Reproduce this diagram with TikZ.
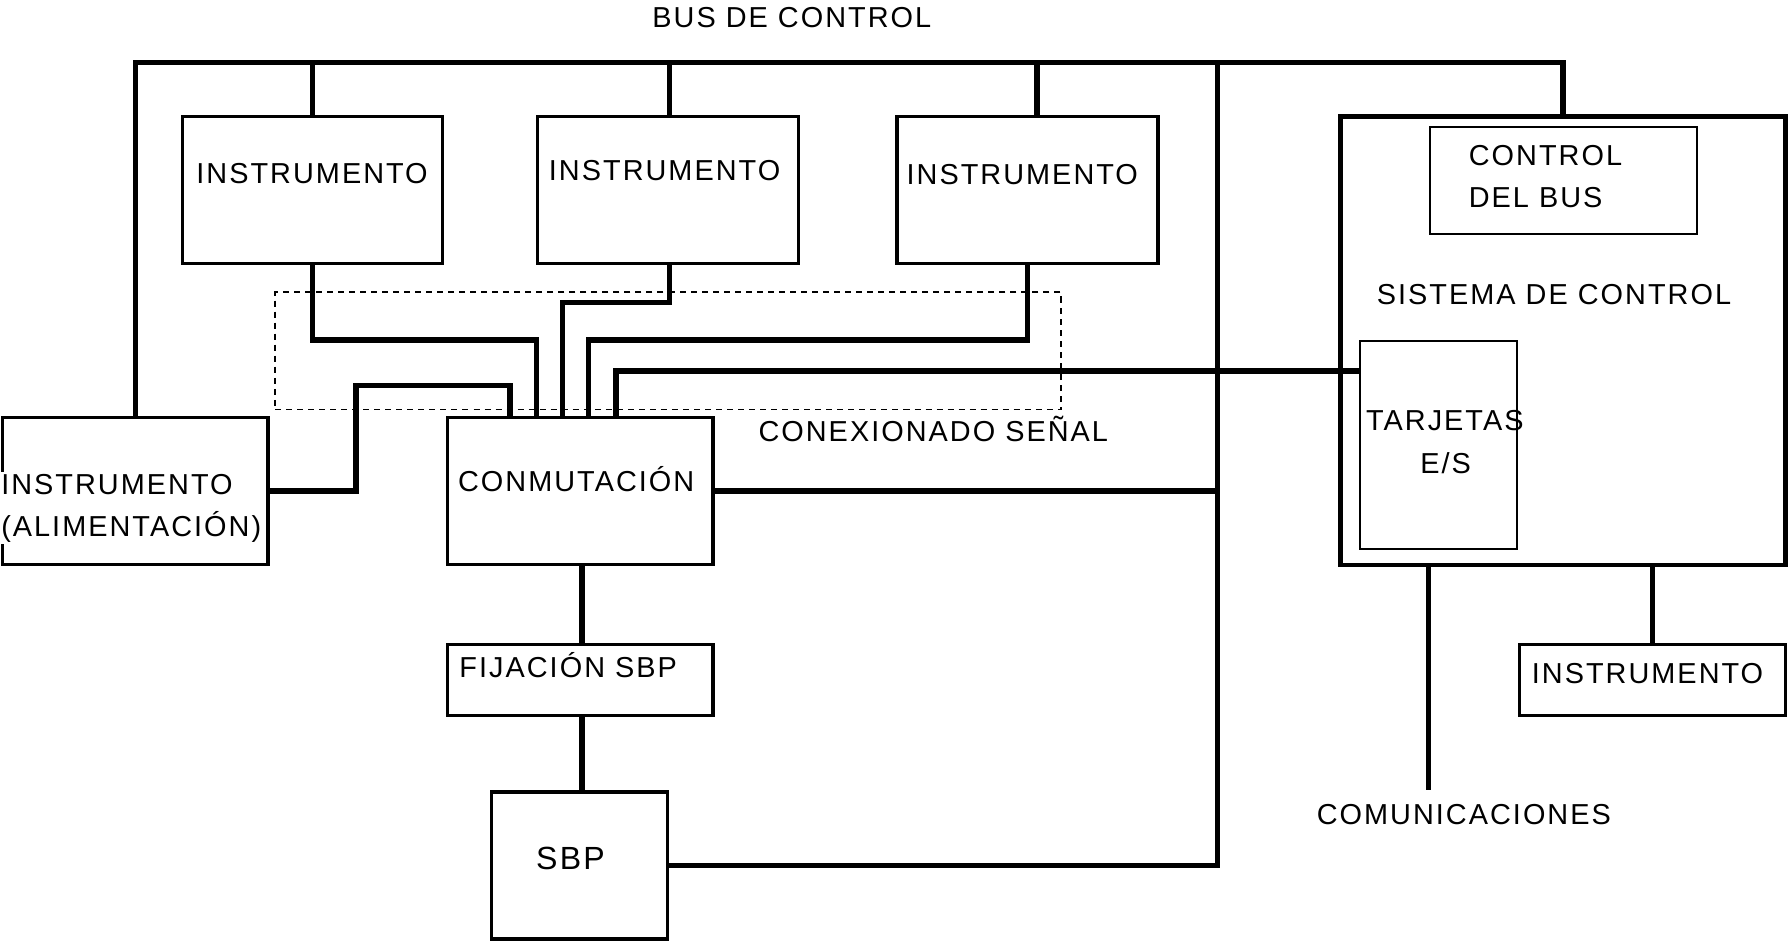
\documentclass[tikz,border=0pt]{standalone}
\usepackage{fontspec}
\setmainfont{Liberation Sans}[LetterSpace=7]
\usetikzlibrary{calc}
\begin{document}
\begin{tikzpicture}[x=0.02cm,y=-0.02cm,
  box/.style={draw,line width=1.7pt,inner sep=0pt},
  bigbox/.style={draw,line width=2.2pt,inner sep=0pt},
  thinbox/.style={draw,line width=1pt,inner sep=0pt},
  dashbox/.style={draw,line width=0.6pt,dash pattern=on 3pt off 2.5pt,inner sep=0pt},
  wire/.style={line width=2.7pt},
  lbl/.style={font=\fontsize{14.4pt}{17pt}\selectfont,inner sep=0pt,anchor=base},
  lblw/.style={lbl,anchor=base west}]
\useasboundingbox (0,0) rectangle (1568,825);

% boxes
\node[box,minimum width=4.56cm,minimum height=2.58cm] (i1) at (274,166.5) {};
\node[box,minimum width=4.58cm,minimum height=2.58cm] (i2) at (585.5,166.5) {};
\node[box,minimum width=4.58cm,minimum height=2.58cm] (i3) at (900.5,166.5) {};
\node[bigbox,minimum width=7.8cm,minimum height=7.86cm] (sis) at (1370,298.5) {};
\node[thinbox,minimum width=4.68cm,minimum height=1.88cm] (cb) at (1370,158) {};
\node[thinbox,minimum width=2.76cm,minimum height=3.64cm] (tar) at (1261,390) {};
\node[box,minimum width=4.66cm,minimum height=2.58cm] (alim) at (118.5,430.5) {};
\node[box,minimum width=4.66cm,minimum height=2.58cm] (conm) at (508.5,430.5) {};
\node[box,minimum width=4.66cm,minimum height=1.24cm] (fij) at (508.5,596) {};
\node[box,minimum width=3.08cm,minimum height=2.58cm] (sbp) at (508,758.5) {};
\node[box,minimum width=4.66cm,minimum height=1.24cm] (i4) at (1448.5,596) {};
\node[dashbox,minimum width=13.78cm,minimum height=2.06cm] (sig) at (585.5,307.5) {};

% bus de control
\coordinate (bL) at (119,55);
\coordinate (bR) at (1370,55);
\coordinate (bV) at (1067,55);
\coordinate (d2) at (587,55);
\coordinate (d3) at (909,55);
\coordinate (dc) at (510,0);
\draw[wire] (bL |- alim.north) -- (bL) -- (bR) -- (sis.north);
\draw[wire] (i1.north) -- (i1.north |- bL);
\draw[wire] (d2 |- i2.north) -- (d2);
\draw[wire] (d3) -- (d3 |- i3.north);
\draw[wire] (bV) -- (bV |- sbp.east) -- (sbp.east);
\draw[wire] (conm.east) -- (conm.east -| bV);
\draw[wire] (dc |- conm.south) -- (dc |- fij.north);
\draw[wire] (dc |- fij.south) -- (dc |- sbp.north);
\coordinate (com) at (1252,692);
\draw[wire] (com |- sis.south) -- (com);
\draw[wire] (i4.north) -- (i4.north |- sis.south);

% conexionado senal
\coordinate (s1) at (470,298);
\coordinate (s2) at (493,265);
\coordinate (s3) at (516,298);
\coordinate (s4) at (540,325);
\coordinate (s5a) at (312,338);
\coordinate (s5b) at (447,338);
\draw[wire] (i1.south) |- (s1) -- (s1 |- conm.north);
\draw[wire] (d2 |- i2.south) |- (s2) -- (s2 |- conm.north);
\draw[wire] (i3.south) |- (s3) -- (s3 |- conm.north);
\draw[wire] (tar.west |- s4) -- (s4) -- (s4 |- conm.north);
\draw[wire] (alim.east) -| (s5a) -- (s5b) -- (s5b |- conm.north);

% texts
\node[lbl] (tbus) at (694,24) {BUS DE CONTROL};
\node[lbl] (ti1) at (273.5,161) {INSTRUMENTO};
\node[lbl] (ti2) at (582.5,158) {INSTRUMENTO};
\node[lbl] (ti3) at (896,162) {INSTRUMENTO};
\node[lblw] (tcb1) at (1287,145) {CONTROL};
\node[lblw] (tcb2) at (1287,182) {DEL BUS};
\node[lbl] (tsis) at (1362,267) {SISTEMA DE CONTROL};
\node[lblw] (ttar) at (1197,377) {TARJETAS};
\node[lbl] (tes) at (1267,415) {E/S};
\node[lbl] (tsig) at (818,387) {CONEXIONADO SEÑAL};
\node[lblw,fill=white,align=left,inner sep=1pt,font=\fontsize{14.4pt}{21pt}\selectfont] (talim) at (-1,470) {INSTRUMENTO\\(ALIMENTACIÓN)};
\node[lbl] (tconm) at (505,431) {CONMUTACIÓN};
\node[lbl] (tfij) at (498,594) {FIJACIÓN SBP};
\node[lbl,font=\fontsize{16pt}{19pt}\selectfont] (tsbp) at (500,762) {SBP};
\node[lbl] (ti4) at (1444,599) {INSTRUMENTO};
\node[lbl] (tcom) at (1283,723) {COMUNICACIONES};
\end{tikzpicture}
\end{document}
